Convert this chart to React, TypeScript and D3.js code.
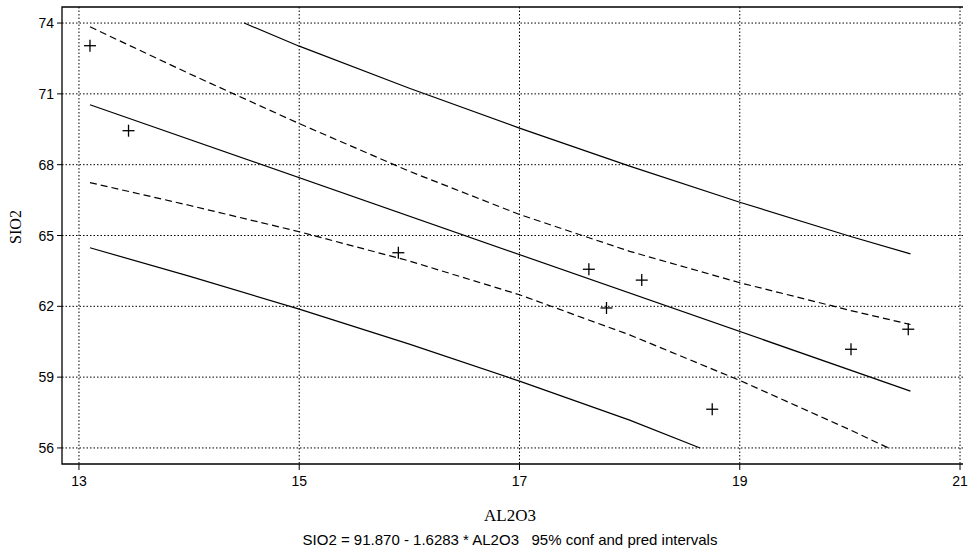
import React from "react";
import * as d3 from "d3";

const WIDTH = 969;
const HEIGHT = 560;
const LEFT = 62;
const RIGHT = 963;
const TOP = 7;
const BOTTOM = 464;

// tick labels
const xTicks = [13, 15, 17, 19, 21];
const yTicks = [56, 59, 62, 65, 68, 71, 74];

// observations (AL2O3, SIO2)
const obsX = [13.1, 13.45, 15.9, 17.63, 18.11, 17.79, 18.75, 20.01, 20.53];
const obsY = [73.04, 69.44, 64.27, 63.57, 63.11, 61.93, 57.64, 60.18, 61.03];

// fitted line, read at its two ends
const fitX = [13.1, 20.55];
const fitY = [70.54, 58.41];

// bands (they stop where they leave the 56..74 range)
const upperPredX = [14.5, 15, 16, 17, 18, 19, 20, 20.55];
const upperPredY = [74, 73.02, 71.24, 69.55, 67.94, 66.41, 64.97, 64.22];
const lowerPredX = [13.1, 14, 15, 16, 17, 18, 18.64];
const lowerPredY = [64.48, 63.28, 61.88, 60.4, 58.83, 57.18, 56];
const upperConfX = [13.1, 14, 15, 16, 17, 18, 19, 20, 20.55];
const upperConfY = [73.84, 71.86, 69.74, 67.72, 65.89, 64.33, 63.0, 61.83, 61.23];
const lowerConfX = [13.1, 14, 15, 16, 17, 18, 19, 20, 20.35];
const lowerConfY = [67.24, 66.28, 65.16, 63.92, 62.49, 60.79, 58.86, 56.77, 56];

const FONT = "'Liberation Sans', Arial, sans-serif";
const SERIF = "'Liberation Serif', 'Times New Roman', serif";

const App = () => {
  const x = d3.scaleLinear().domain([12.846, 21.027]).range([LEFT, RIGHT]);
  const y = d3.scaleLinear().domain([55.32, 74.68]).range([BOTTOM, TOP]);

  const line = d3
    .line<[number, number]>()
    .x((d) => x(d[0]))
    .y((d) => y(d[1]));
  const zip = (xs: number[], ys: number[]) =>
    xs.map((v, i) => [v, ys[i]] as [number, number]);

  const solid = [zip(fitX, fitY), zip(upperPredX, upperPredY), zip(lowerPredX, lowerPredY)];
  const dashed = [zip(upperConfX, upperConfY), zip(lowerConfX, lowerConfY)];

  return (
    <svg
      width={WIDTH}
      height={HEIGHT}
      style={{ position: "absolute", left: 0, top: 0, background: "white" }}
    >
      {/* grid */}
      {yTicks.map((t) => (
        <line key={"gy" + t} x1={LEFT} x2={RIGHT} y1={y(t)} y2={y(t)}
          stroke="#000" strokeWidth={1} strokeDasharray="1.5,2" />
      ))}
      {xTicks.map((t) => (
        <line key={"gx" + t} x1={x(t)} x2={x(t)} y1={TOP} y2={BOTTOM}
          stroke="#000" strokeWidth={1} strokeDasharray="1.5,2" />
      ))}

      {/* frame: left, top, bottom */}
      <path d={`M${RIGHT},${TOP}H${LEFT}V${BOTTOM}H${RIGHT}`} fill="none" stroke="#000" strokeWidth={1.3} />

      {/* ticks */}
      {yTicks.map((t) => (
        <g key={"ty" + t}>
          <line x1={LEFT - 5} x2={LEFT} y1={y(t)} y2={y(t)} stroke="#000" />
          <text x={LEFT - 8} y={y(t)} textAnchor="end" dominantBaseline="central"
            fontFamily={FONT} fontSize={14} fill="#000">{t}</text>
        </g>
      ))}
      {xTicks.map((t) => (
        <g key={"tx" + t}>
          <line x1={x(t)} x2={x(t)} y1={BOTTOM} y2={BOTTOM + 6} stroke="#000" />
          <text x={x(t)} y={486} textAnchor="middle"
            fontFamily={FONT} fontSize={14} fill="#000">{t}</text>
        </g>
      ))}

      {/* fit and intervals */}
      {solid.map((pts, i) => (
        <path key={"s" + i} d={line(pts) || ""} fill="none" stroke="#000" strokeWidth={1.2} />
      ))}
      {dashed.map((pts, i) => (
        <path key={"d" + i} d={line(pts) || ""} fill="none" stroke="#000" strokeWidth={1.2}
          strokeDasharray="7,4" />
      ))}

      {/* observations */}
      {obsX.map((v, i) => (
        <g key={"p" + i} stroke="#000" strokeWidth={1.3}>
          <line x1={x(v) - 6} x2={x(v) + 6} y1={y(obsY[i])} y2={y(obsY[i])} />
          <line x1={x(v)} x2={x(v)} y1={y(obsY[i]) - 6} y2={y(obsY[i]) + 6} />
        </g>
      ))}

      {/* titles */}
      <text x={510} y={521} textAnchor="middle" fontFamily={SERIF} fontSize={17} fill="#000">
        AL2O3
      </text>
      <text transform={`translate(21, 227) rotate(-90)`} textAnchor="middle"
        fontFamily={SERIF} fontSize={16} fill="#000">
        SIO2
      </text>
      <text x={510} y={545} textAnchor="middle" fontFamily={FONT} fontSize={15} fill="#000"
        style={{ whiteSpace: "pre" }}>
        {"SIO2 = 91.870 - 1.6283 * AL2O3   95% conf and pred intervals"}
      </text>
    </svg>
  );
};

export default App;
